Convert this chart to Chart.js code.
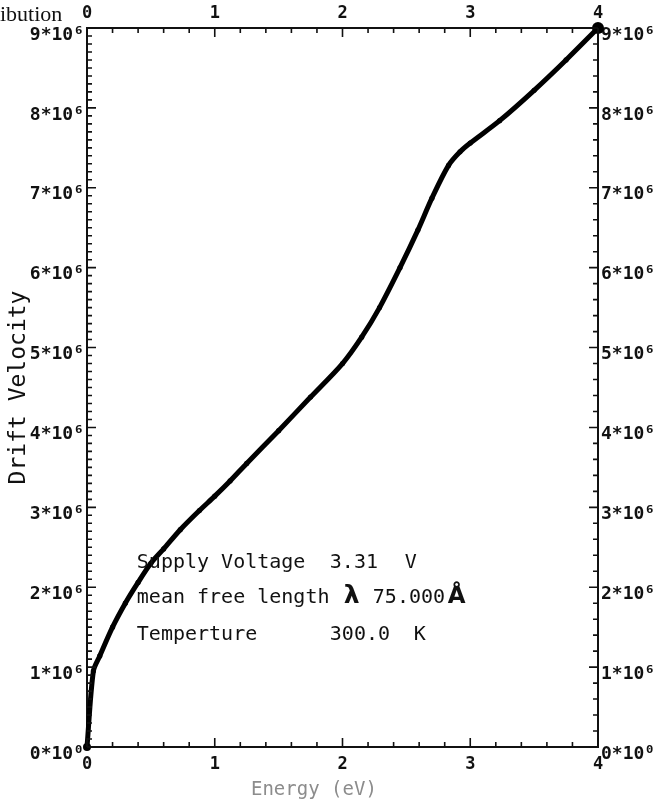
<!DOCTYPE html>
<html>
<head>
<meta charset="utf-8">
<script src="https://cdn.jsdelivr.net/npm/chart.js@4.4.0/dist/chart.umd.min.js"></script>
<style>
  html, body { margin: 0; padding: 0; background: #fff; }
  canvas { display: block; }
</style>
</head>
<body>
<canvas id="myChart" width="655" height="807"></canvas>
<script>
const ctx = document.getElementById('myChart');

// curve (energy in eV, velocity)
const energy = [0, 0.05, 0.1, 0.2, 0.3, 0.4, 0.5, 0.6, 0.73, 0.88, 1.0, 1.12, 1.25, 1.5, 1.75, 2.0, 2.15, 2.29, 2.45, 2.59, 2.7, 2.83, 2.92, 3.0, 3.23, 3.5, 3.75, 4.0]
const velocity = [0, 0.95e6, 1.14e6, 1.5e6, 1.8e6, 2.06e6, 2.3e6, 2.48e6, 2.72e6, 2.96e6, 3.14e6, 3.33e6, 3.55e6, 3.96e6, 4.38e6, 4.8e6, 5.13e6, 5.5e6, 6.0e6, 6.47e6, 6.87e6, 7.28e6, 7.45e6, 7.56e6, 7.84e6, 8.22e6, 8.6e6, 9.0e6]

const xTickLabels = ["0", "1", "2", "3", "4"]
const yTickLabels = ["0*10⁰", "1*10⁶", "2*10⁶", "3*10⁶", "4*10⁶", "5*10⁶", "6*10⁶", "7*10⁶", "8*10⁶", "9*10⁶"]

const infoLines = [
    ["Supply Voltage", "3.31", "V"],
    ["mean free length", "λ", "75.000", "Å"],
    ["Temperture", "300.0", "K"]
]

const mono = '"DejaVu Sans Mono", monospace'

let points = []
for (let i = 0; i < energy.length; i++) {
    points.push({ x: energy[i], y: velocity[i] })
}

// ticks pointing inward, plus the text block
const frameTicks = {
    id: 'frameTicks',
    afterDatasetsDraw(chart) {
        const c = chart.ctx
        const a = chart.chartArea
        const sx = chart.scales.x
        const sy = chart.scales.y
        c.save()
        c.strokeStyle = '#111'
        c.lineWidth = 1.6
        c.beginPath()
        for (let i = 0; i <= 20; i++) {
            const px = sx.getPixelForValue(i * 0.2)
            const len = i % 5 === 0 ? 9 : 5
            c.moveTo(px, a.bottom); c.lineTo(px, a.bottom - len)
            c.moveTo(px, a.top); c.lineTo(px, a.top + len)
        }
        for (let i = 0; i <= 90; i++) {
            const py = sy.getPixelForValue(i * 1e5)
            const len = i % 10 === 0 ? 9 : 5
            c.moveTo(a.left, py); c.lineTo(a.left + len, py)
            if (i % 2 === 0) {
                c.moveTo(a.right, py); c.lineTo(a.right - len, py)
            }
        }
        c.stroke()

        // info text
        c.fillStyle = '#111'
        c.textBaseline = 'alphabetic'
        const x0 = sx.getPixelForValue(0.39)
        const b1 = sy.getPixelForValue(2.24e6)
        const b2 = sy.getPixelForValue(1.80e6)
        const b3 = sy.getPixelForValue(1.34e6)
        c.font = '20px ' + mono
        c.fillText(infoLines[0][0], x0, b1)
        c.fillText(infoLines[0][1], x0 + 193, b1)
        c.fillText(infoLines[0][2], x0 + 268, b1)

        c.fillText(infoLines[1][0], x0, b2)
        c.font = 'bold 25px "DejaVu Sans"'
        c.fillText(infoLines[1][1], x0 + 207, b2)
        c.font = '20px ' + mono
        c.fillText(infoLines[1][2], x0 + 236, b2)
        c.font = 'bold 23px "DejaVu Sans"'
        c.fillText(infoLines[1][3], x0 + 311, b2)

        c.font = '20px ' + mono
        c.fillText(infoLines[2][0], x0, b3)
        c.fillText(infoLines[2][1], x0 + 193, b3)
        c.fillText(infoLines[2][2], x0 + 277, b3)

        // leftover of a cut title
        c.font = '22px "Liberation Serif", serif'
        c.fillText("ibution", 0, 21)
        c.restore()
    }
}

const border = { display: true, color: '#111', width: 2 }

new Chart(ctx, {
    type: 'line',
    data: {
        datasets: [{
            data: points,
            borderColor: '#000',
            backgroundColor: '#000',
            borderWidth: 5,
            tension: 0.3,
            pointRadius: c => c.dataIndex === energy.length - 1 ? 6 : (c.dataIndex === 0 ? 4 : 2.6),
            pointBackgroundColor: '#000',
            pointBorderWidth: 0,
            clip: 10
        }]
    },
    options: {
        responsive: false,
        animation: false,
        layout: { padding: 0 },
        plugins: {
            legend: { display: false },
            tooltip: { enabled: false }
        },
        scales: {
            x: {
                type: 'linear',
                position: 'bottom',
                min: 0,
                max: 4,
                grid: { display: false, drawTicks: false },
                border: border,
                ticks: {
                    stepSize: 1,
                    padding: 7,
                    color: '#111',
                    font: { family: mono, size: 17, weight: 'bold' },
                    callback: (v, i) => xTickLabels[i]
                },
                title: {
                    display: true,
                    text: 'Energy (eV)     ',
                    color: '#8c8c8c',
                    font: { family: mono, size: 19 },
                    padding: { top: 0, bottom: 6 }
                },
                afterFit: s => { s.height = 60 }
            },
            x2: {
                type: 'linear',
                position: 'top',
                min: 0,
                max: 4,
                grid: { display: false, drawTicks: false },
                border: border,
                ticks: {
                    stepSize: 1,
                    padding: 4,
                    color: '#111',
                    font: { family: mono, size: 17, weight: 'bold' },
                    callback: (v, i) => xTickLabels[i]
                },
                afterFit: s => { s.height = 28 }
            },
            y: {
                type: 'linear',
                position: 'left',
                min: 0,
                max: 9e6,
                grid: { display: false, drawTicks: false },
                border: border,
                ticks: {
                    stepSize: 1e6,
                    padding: 3,
                    labelOffset: 7,
                    color: '#111',
                    font: { family: mono, size: 18, weight: 'bold' },
                    callback: (v, i) => yTickLabels[i]
                },
                title: {
                    display: true,
                    text: 'Drift Velocity',
                    color: '#111',
                    font: { family: mono, size: 23 },
                    padding: { top: 5, bottom: 0 }
                },
                afterFit: s => { s.width = 87 }
            },
            y2: {
                type: 'linear',
                position: 'right',
                min: 0,
                max: 9e6,
                grid: { display: false, drawTicks: false },
                border: border,
                ticks: {
                    stepSize: 1e6,
                    padding: 3,
                    labelOffset: 7,
                    color: '#111',
                    font: { family: mono, size: 18, weight: 'bold' },
                    callback: (v, i) => yTickLabels[i]
                },
                afterFit: s => { s.width = 57 }
            }
        }
    },
    plugins: [frameTicks]
});
</script>
</body>
</html>
